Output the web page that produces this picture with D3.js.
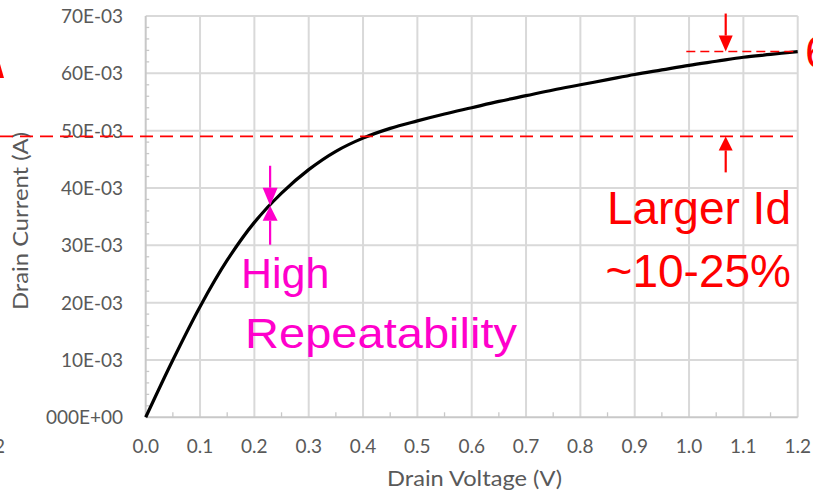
<!DOCTYPE html>
<html>
<head>
<meta charset="utf-8">
<script src="https://cdn.jsdelivr.net/npm/d3@7"></script>
<style>
  body { margin: 0; background: #fff; }
  svg { display: block; }
  .tick-label { font-family: Lato, "Open Sans", sans-serif; fill: #595959; }
</style>
</head>
<body>
<svg id="chart" width="813" height="496"></svg>
<script>
// drain voltage (V) and drain current (mA)
var voltage = [0, 0.05, 0.1, 0.15, 0.2, 0.25, 0.3, 0.35, 0.4, 0.45, 0.5, 0.55, 0.6,
               0.65, 0.7, 0.75, 0.8, 0.85, 0.9, 0.95, 1.0, 1.05, 1.1, 1.15, 1.2];
var current = [0, 10, 19.3, 27.4, 34.0, 39.1, 43.2, 46.4, 48.7, 50.4, 51.7, 52.9, 54.0,
               55.1, 56.1, 57.1, 58.0, 58.9, 59.8, 60.6, 61.4, 62.1, 62.8, 63.3, 63.8];

var xTicks = [0, 0.1, 0.2, 0.3, 0.4, 0.5, 0.6, 0.7, 0.8, 0.9, 1.0, 1.1, 1.2];
var yTicks = [0, 10, 20, 30, 40, 50, 60, 70];
var yTickLabels = ["000E+00", "10E-03", "20E-03", "30E-03", "40E-03", "50E-03", "60E-03", "70E-03"];

var refLevel = 49;      // lower red dashed line
var topLevel = 63.8;    // upper red dashed line
var arrowV = 1.0675;    // red arrows position
var repV = 0.229, repI = 36.9;  // magenta arrows

var svg = d3.select("#chart");

var x = d3.scaleLinear().domain([0, 1.2]).range([145.7, 797.7]);
var y = d3.scaleLinear().domain([0, 70]).range([417.3, 16]);

var grid = "#d9d9d9";

// gridlines
svg.append("g").selectAll("line").data(yTicks.slice(1)).enter().append("line")
    .attr("x1", x(0)).attr("x2", x(1.2))
    .attr("y1", d => y(d)).attr("y2", d => y(d))
    .attr("stroke", grid).attr("stroke-width", 2);
svg.append("g").selectAll("line").data(xTicks.slice(1)).enter().append("line")
    .attr("x1", d => x(d)).attr("x2", d => x(d))
    .attr("y1", y(0)).attr("y2", y(70))
    .attr("stroke", grid).attr("stroke-width", 2);

// minor ticks
var yMinor = d3.range(2, 70, 2).filter(d => d % 10 != 0);
svg.append("g").selectAll("line").data(yMinor).enter().append("line")
    .attr("x1", x(0)).attr("x2", x(0) + 3.5)
    .attr("y1", d => y(d)).attr("y2", d => y(d))
    .attr("stroke", "#c8c8c8").attr("stroke-width", 1.3);
var xMinor = d3.range(0.05, 1.2, 0.1);
svg.append("g").selectAll("line").data(xMinor).enter().append("line")
    .attr("x1", d => x(d)).attr("x2", d => x(d))
    .attr("y1", y(0)).attr("y2", y(0) - 5)
    .attr("stroke", "#c8c8c8").attr("stroke-width", 1.3);

// axis lines
svg.append("line").attr("x1", x(0)).attr("x2", x(0)).attr("y1", y(0)).attr("y2", y(70))
    .attr("stroke", "#c8c8c8").attr("stroke-width", 2);
svg.append("line").attr("x1", x(0)).attr("x2", x(1.2)).attr("y1", y(0)).attr("y2", y(0))
    .attr("stroke", "#c8c8c8").attr("stroke-width", 2);

// tick labels
svg.append("g").selectAll("text").data(yTicks).enter().append("text")
    .attr("class", "tick-label")
    .attr("x", 123).attr("y", d => y(d) + 7)
    .attr("text-anchor", "end").attr("font-size", 19)
    .text((d, i) => yTickLabels[i]);
svg.append("g").selectAll("text").data(xTicks).enter().append("text")
    .attr("class", "tick-label")
    .attr("x", d => x(d)).attr("y", 453)
    .attr("text-anchor", "middle").attr("font-size", 19)
    .text(d => d.toFixed(1));

// axis titles
svg.append("text").attr("class", "tick-label")
    .attr("x", 387).attr("y", 486).attr("font-size", 21.5)
    .attr("textLength", 175).attr("lengthAdjust", "spacingAndGlyphs")
    .text("Drain Voltage (V)");
svg.append("text").attr("class", "tick-label")
    .attr("transform", "translate(28,310) rotate(-90)")
    .attr("font-size", 21.5)
    .attr("textLength", 178).attr("lengthAdjust", "spacingAndGlyphs")
    .text("Drain Current (A)");

// neighbouring fragments cut at the edges
svg.append("text").attr("class", "tick-label")
    .attr("x", 5).attr("y", 453).attr("text-anchor", "end").attr("font-size", 19).text("1.2");

// curve
var line = d3.line()
    .x((d, i) => x(voltage[i]))
    .y(d => y(d))
    .curve(d3.curveCatmullRom);
svg.append("path").datum(current)
    .attr("d", line)
    .attr("fill", "none").attr("stroke", "#000").attr("stroke-width", 3.2);

// red annotations
var red = "#ff0000";
svg.append("line").attr("x1", 0).attr("x2", x(1.2))
    .attr("y1", y(refLevel)).attr("y2", y(refLevel))
    .attr("stroke", red).attr("stroke-width", 1.6).attr("stroke-dasharray", "13,7");
svg.append("line").attr("x1", x(0.995)).attr("x2", x(1.2))
    .attr("y1", y(topLevel)).attr("y2", y(topLevel))
    .attr("stroke", red).attr("stroke-width", 1.6).attr("stroke-dasharray", "9,5");

function arrow(color, xp, tipY, dir, shaft, headL, headW) {
    // dir = 1 points down, -1 points up
    var baseY = tipY - dir * headL;
    svg.append("line").attr("x1", xp).attr("x2", xp)
        .attr("y1", baseY).attr("y2", baseY - dir * shaft)
        .attr("stroke", color).attr("stroke-width", 2.2);
    svg.append("path")
        .attr("d", "M" + xp + "," + tipY + "L" + (xp - headW / 2) + "," + baseY + "L" + (xp + headW / 2) + "," + baseY + "Z")
        .attr("fill", color);
}
arrow(red, x(arrowV), y(topLevel), 1, 22, 16, 14);
arrow(red, x(arrowV), y(refLevel), -1, 22, 14, 14);

svg.append("text").attr("x", 791).attr("y", 224).attr("text-anchor", "end")
    .attr("font-family", "Liberation Sans, Arial, sans-serif").attr("font-size", 46)
    .attr("fill", red).text("Larger Id");
svg.append("text").attr("x", 791).attr("y", 287).attr("text-anchor", "end")
    .attr("font-family", "Liberation Sans, Arial, sans-serif").attr("font-size", 46)
    .attr("fill", red).text("~10-25%");
svg.append("text").attr("x", 805).attr("y", 68)
    .attr("font-family", "Liberation Sans, Arial, sans-serif").attr("font-size", 46)
    .attr("fill", red).text("6");
svg.append("path").attr("d", "M0,64L4,78L0,78Z").attr("fill", red);

// magenta annotations
var pink = "#ff00cc";
arrow(pink, x(repV), y(repI), 1, 22, 18, 15);
arrow(pink, x(repV), y(repI), -1, 24, 15, 15);
svg.append("text").attr("x", 241).attr("y", 288)
    .attr("font-family", "Liberation Sans, Arial, sans-serif").attr("font-size", 43)
    .attr("fill", pink).text("High");
svg.append("text").attr("x", 245).attr("y", 348)
    .attr("font-family", "Liberation Sans, Arial, sans-serif").attr("font-size", 43)
    .attr("textLength", 272).attr("lengthAdjust", "spacingAndGlyphs")
    .attr("fill", pink).text("Repeatability");
</script>
</body>
</html>
